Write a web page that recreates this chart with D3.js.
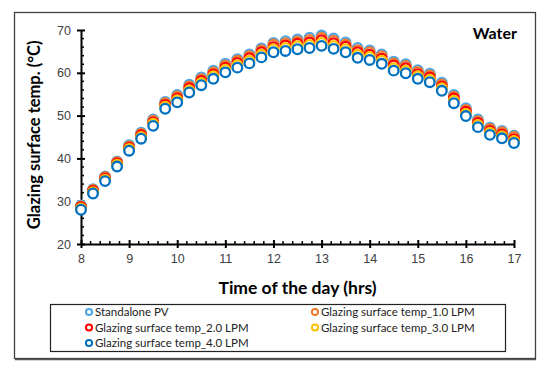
<!DOCTYPE html>
<html>
<head>
<meta charset="utf-8">
<script src="https://cdn.jsdelivr.net/npm/d3@7"></script>
<style>
  html, body { margin: 0; padding: 0; background: #fff; }
  svg { display: block; font-family: Lato, "Open Sans", sans-serif; }
</style>
</head>
<body>
<svg id="chart"></svg>
<script>
// ---- data ----
const hours = [8, 8.25, 8.5, 8.75, 9, 9.25, 9.5, 9.75, 10, 10.25, 10.5, 10.75, 11, 11.25, 11.5, 11.75,
  12, 12.25, 12.5, 12.75, 13, 13.25, 13.5, 13.75, 14, 14.25, 14.5, 14.75, 15, 15.25, 15.5, 15.75,
  16, 16.25, 16.5, 16.75, 17];

const standalonePV = [29.0, 32.8, 35.8, 39.3, 43.1, 46.0, 49.1, 53.2, 54.8, 57.2, 58.9, 60.5, 62.1, 63.2, 64.3, 65.7,
  67.0, 67.4, 67.8, 68.2, 68.7, 68.0, 67.1, 65.8, 65.2, 64.3, 62.6, 62.0, 60.6, 59.8, 57.7, 54.8,
  51.7, 49.1, 47.2, 46.4, 45.3];
const lpm1 = [28.8, 32.6, 35.6, 39.1, 42.8, 45.7, 48.8, 52.9, 54.5, 56.8, 58.5, 60.1, 61.7, 62.8, 63.9, 65.3,
  66.6, 66.9, 67.3, 67.7, 68.2, 67.5, 66.6, 65.3, 64.8, 63.9, 62.2, 61.6, 60.2, 59.4, 57.3, 54.4,
  51.3, 48.7, 46.9, 46.1, 45.0];
const lpm2 = [28.6, 32.4, 35.3, 38.8, 42.5, 45.4, 48.4, 52.5, 54.0, 56.4, 58.1, 59.6, 61.2, 62.3, 63.4, 64.8,
  66.0, 66.4, 66.8, 67.1, 67.6, 66.9, 66.1, 64.8, 64.2, 63.3, 61.7, 61.1, 59.7, 58.9, 56.8, 54.0,
  50.9, 48.3, 46.4, 45.6, 44.5];
const lpm3 = [28.3, 32.1, 35.0, 38.5, 42.2, 45.0, 48.1, 52.1, 53.6, 55.9, 57.6, 59.2, 60.7, 61.8, 62.8, 64.2,
  65.5, 65.8, 66.2, 66.5, 67.0, 66.3, 65.5, 64.2, 63.7, 62.8, 61.1, 60.5, 59.2, 58.4, 56.4, 53.5,
  50.4, 47.8, 46.0, 45.2, 44.1];
const lpm4 = [28.0, 31.8, 34.7, 38.1, 41.8, 44.6, 47.6, 51.6, 53.1, 55.4, 57.1, 58.6, 60.1, 61.2, 62.2, 63.6,
  64.8, 65.1, 65.5, 65.8, 66.3, 65.6, 64.8, 63.5, 63.0, 62.1, 60.5, 59.9, 58.6, 57.8, 55.8, 52.9,
  49.9, 47.3, 45.5, 44.7, 43.6];

const seriesNames = ["Standalone PV", "Glazing surface temp_1.0 LPM", "Glazing surface temp_2.0 LPM",
  "Glazing surface temp_3.0 LPM", "Glazing surface temp_4.0 LPM"];
const seriesValues = [standalonePV, lpm1, lpm2, lpm3, lpm4];
const seriesColors = ["#4fa6e6", "#ed7d31", "#ff0000", "#ffc000", "#0070c0"];

const xTicks = [8, 9, 10, 11, 12, 13, 14, 15, 16, 17];
const yTicks = [20, 30, 40, 50, 60, 70];

// ---- layout ----
const width = 550, height = 373;
const svg = d3.select("#chart").attr("width", width).attr("height", height);

// outer frame
svg.append("rect")
  .attr("x", 14.5).attr("y", 12.5)
  .attr("width", 521).attr("height", 346)
  .attr("fill", "#fff")
  .attr("stroke", "#404040")
  .attr("stroke-width", 1.3);
svg.append("line")
  .attr("x1", 15).attr("x2", 536).attr("y1", 359.5).attr("y2", 359.5)
  .attr("stroke", "#555").attr("stroke-width", 1.5);

const x = d3.scaleLinear().domain([8, 17]).range([81, 514]);
const y = d3.scaleLinear().domain([20, 70]).range([244, 30]);

const g = svg.append("g");

// minor ticks (inside only)
const xMinor = d3.range(8, 17.0001, 0.2).filter(v => Math.abs(v - Math.round(v)) > 0.01);
g.selectAll("line.xminor")
  .data(xMinor)
  .enter().append("line")
  .attr("x1", d => x(d)).attr("x2", d => x(d))
  .attr("y1", y(20)).attr("y2", y(20) - 3)
  .attr("stroke", "#000").attr("stroke-width", 1.5);

const yMinor = d3.range(20, 70.0001, 2).filter(v => v % 10 !== 0);
g.selectAll("line.yminor")
  .data(yMinor)
  .enter().append("line")
  .attr("x1", x(8)).attr("x2", x(8) + 3)
  .attr("y1", d => y(d)).attr("y2", d => y(d))
  .attr("stroke", "#000").attr("stroke-width", 1.5);

// axes
const xAxis = g.append("g")
  .attr("transform", `translate(0,${y(20)})`)
  .call(d3.axisBottom(x).tickValues(xTicks).tickSizeInner(-4).tickSizeOuter(0).tickPadding(10));
xAxis.selectAll(".tick line").attr("y1", 4).attr("y2", -4);

const yAxis = g.append("g")
  .attr("transform", `translate(${x(8)},0)`)
  .call(d3.axisLeft(y).tickValues(yTicks).tickSizeInner(4).tickSizeOuter(0).tickPadding(6));
yAxis.selectAll(".tick line").attr("x1", -4).attr("x2", 4);

[xAxis, yAxis].forEach(ax => {
  ax.select(".domain").attr("stroke", "#000").attr("stroke-width", 2);
  ax.selectAll(".tick line").attr("stroke", "#000").attr("stroke-width", 2);
  ax.selectAll(".tick text").attr("fill", "#404040").style("font-size", "12.5px");
});

// axis titles
svg.append("text")
  .attr("x", x(12.5)).attr("y", 294)
  .attr("text-anchor", "middle")
  .style("font-size", "17.5px").style("font-weight", "bold")
  .text("Time of the day (hrs)");

svg.append("text")
  .attr("transform", `translate(40,${y(45.5)}) rotate(-90)`)
  .attr("text-anchor", "middle")
  .style("font-size", "16.5px").style("font-weight", "bold")
  .text("Glazing surface temp. (°C)");

svg.append("text")
  .attr("x", 517).attr("y", 39)
  .attr("text-anchor", "end")
  .style("font-size", "16px").style("font-weight", "bold")
  .text("Water");

// markers
seriesValues.forEach((vals, i) => {
  g.append("g").selectAll("circle")
    .data(hours.map((h, j) => [h, vals[j]]))
    .enter().append("circle")
    .attr("cx", d => x(d[0]))
    .attr("cy", d => y(d[1]))
    .attr("r", 4.8)
    .attr("fill", "#fff")
    .attr("stroke", seriesColors[i])
    .attr("stroke-width", 2.3);
});

// legend
svg.append("rect")
  .attr("x", 50.5).attr("y", 304.5)
  .attr("width", 455).attr("height", 47)
  .attr("fill", "#fff")
  .attr("stroke", "#222").attr("stroke-width", 1.2);

const legendPos = [[89, 312], [315, 312], [89, 327.5], [315, 327.5], [89, 343]];
const legend = svg.append("g").selectAll("g.item")
  .data(seriesNames)
  .enter().append("g")
  .attr("transform", (d, i) => `translate(${legendPos[i][0]},${legendPos[i][1]})`);
legend.append("circle")
  .attr("r", 3.1)
  .attr("fill", "#fff")
  .attr("stroke", (d, i) => seriesColors[i])
  .attr("stroke-width", 2);
legend.append("text")
  .attr("x", 6).attr("dy", "0.35em")
  .style("font-size", "11.5px")
  .attr("fill", "#222")
  .text(d => d);
</script>
</body>
</html>
